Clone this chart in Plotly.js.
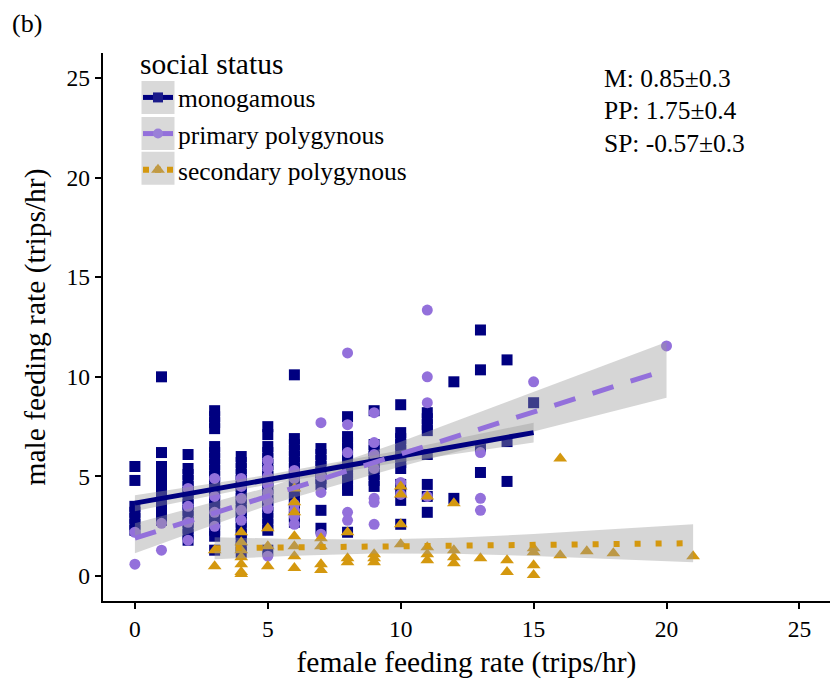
<!DOCTYPE html>
<html>
<head>
<meta charset="utf-8">
<script src="https://cdn.plot.ly/plotly-3.0.1.min.js"></script>
<style>
  html, body { margin: 0; padding: 0; background: #fff; }
  #chart { width: 830px; height: 679px; }
</style>
</head>
<body>
<div id="chart"></div>
<script>
// ---------------- data ----------------
var groupNames = ['monogamous', 'primary polygynous', 'secondary polygynous'];
var statLabels = ['M: 0.85\u00b10.3', 'PP: 1.75\u00b10.4', 'SP: -0.57\u00b10.3'];
var axisTicks = [0, 5, 10, 15, 20, 25];

// monogamous (navy squares)
var monoFemale = [
  0,0,0,0,0,0,0,
  1,1,1,1,1,1,1,1,1,1,1,1,
  2,2,2,2,2,2,2,2,2,2,2,2,2,2,
  3,3,3,3,3,3,3,3,3,3,3,3,3,3,3,3,3,3,3,3,3,
  4,4,4,4,4,4,4,4,4,4,4,4,4,4,4,4,4,
  5,5,5,5,5,5,5,5,5,5,5,5,5,5,5,5,5,5,
  6,6,6,6,6,6,6,6,6,6,6,6,6,6,6,6,
  7,7,7,7,7,7,7,7,7,
  8,8,8,8,8,8,8,8,8,8,8,8,
  9,9,9,9,9,9,9,9,9,
  10,10,10,10,10,10,10,10,10,10,10,10,
  11,11,11,11,11,11,11,11,
  12,12,
  13,13,13,13,
  14,14,14,
  15
];
var monoMale = [
  5.5,4.8,3.5,3.2,2.9,2.6,2.3,
  10.0,6.2,5.5,5.2,4.9,4.6,4.3,4.0,3.7,3.4,3.1,2.8,
  6.1,5.4,5.1,4.8,4.5,4.2,3.9,3.6,3.3,3.0,2.7,2.4,2.1,1.8,
  8.3,8.0,7.7,7.4,6.5,6.2,5.9,5.6,5.3,5.0,4.7,4.4,4.1,3.8,3.5,3.2,2.9,2.6,2.3,2.0,1.3,
  6.0,5.7,5.4,5.1,4.8,4.5,4.2,3.9,3.6,3.3,3.0,2.7,2.4,2.1,1.8,1.5,1.2,
  7.5,7.1,6.5,6.2,5.9,5.6,5.3,5.0,4.7,4.4,4.1,3.8,3.5,3.2,2.9,2.6,2.3,1.3,
  10.1,6.9,6.6,6.3,6.0,5.7,5.4,5.1,4.8,4.5,4.2,3.9,3.6,3.3,3.0,2.7,
  6.4,6.1,5.8,5.5,5.2,4.9,4.6,3.3,2.4,
  8.0,7.0,6.7,6.4,6.1,5.8,5.5,5.2,4.9,4.6,4.3,2.2,
  8.3,6.6,6.3,6.0,5.7,5.4,5.1,4.8,4.5,
  8.6,7.2,6.9,6.6,6.3,6.0,5.7,5.4,4.6,4.2,3.8,2.6,
  8.2,7.9,7.6,7.3,6.1,4.6,4.0,3.2,
  9.75,3.9,
  12.35,10.35,6.5,5.2,
  10.85,6.75,4.75,
  8.7
];

// primary polygynous (purple circles)
var ppFemale = [
  0,0,
  1,1,
  2,2,2,2,
  3,3,3,3,
  4,4,4,4,4,
  5,5,5,5,5,5,5,5,
  6,6,6,6,6,6,
  7,7,7,7,
  8,8,8,8,8,
  9,9,9,9,9,9,9,
  10,10,
  11,11,11,11,
  13,13,13,
  15,
  20
];
var ppMale = [
  2.2,0.6,
  2.65,1.3,
  4.4,3.5,2.7,1.8,
  4.9,4.0,3.2,2.5,
  4.9,4.5,3.9,3.3,2.8,
  5.8,5.4,5.0,4.6,4.2,3.8,3.4,1.0,
  5.3,4.9,3.6,3.3,3.0,2.6,
  7.7,5.0,4.2,2.1,
  11.2,7.6,6.2,3.2,2.8,
  8.2,6.7,6.1,5.4,3.9,3.7,2.6,
  4.7,4.1,
  13.35,10.0,8.7,4.0,
  6.2,3.9,3.3,
  9.75,
  11.55
];

// secondary polygynous (orange triangles)
var spFemale = [
  3,3,
  4,4,4,4,4,4,4,
  5,5,5,
  6,6,6,6,6,6,6,
  7,7,7,7,
  8,8,8,
  9,9,9,
  10,10,10,10,
  11,11,11,11,
  12,12,12,12,
  13,
  14,14,
  15,15,15,15,
  16,16,
  17,
  18,
  21
];
var spMale = [
  1.3,0.5,
  2.2,1.7,1.3,0.95,0.6,0.2,0.1,
  2.4,1.5,0.5,
  4.4,3.7,3.2,2.0,1.5,1.0,0.4,
  1.9,1.5,0.6,0.3,
  2.2,0.9,0.7,
  1.1,0.9,0.7,
  4.5,4.1,2.6,1.6,
  4.0,1.45,1.1,0.8,
  3.65,1.3,0.95,0.65,
  0.9,
  0.8,0.2,
  1.4,1.2,0.55,0.05,
  5.9,1.05,
  1.25,
  1.15,
  1.0
];

// fitted lines and confidence bands
var monoFitX = [0, 5, 10, 15];
var monoFitY = [3.66, 4.84, 6.02, 7.2];
var monoLow  = [3.26, 4.6, 5.72, 6.7];
var monoHigh = [4.06, 5.08, 6.32, 7.7];

var ppFitX = [0, 5, 10, 15, 20];
var ppFitY = [1.9, 4.0, 6.12, 8.24, 10.35];
var ppLow  = [1.15, 3.55, 5.5, 7.25, 8.95];
var ppHigh = [2.65, 4.45, 6.74, 9.23, 11.75];

var spFitX = [3, 6, 9, 12, 15, 18, 21];
var spFitY = [1.4, 1.44, 1.48, 1.52, 1.56, 1.6, 1.65];
var spLow  = [0.85, 1.02, 1.13, 1.12, 1.01, 0.85, 0.7];
var spHigh = [1.95, 1.86, 1.83, 1.92, 2.11, 2.35, 2.6];

// ---------------- styling ----------------
var NAVY = '#000080', PURPLE = '#9370DB', GOLD = '#D4980F';
var FONT = '"Liberation Serif", "Times New Roman", serif';
var RIB = 'rgba(153,153,153,0.4)';

function band(xs, lo, hi) {
  return {
    x: xs.concat(xs.slice().reverse()),
    y: hi.concat(lo.slice().reverse()),
    type: 'scatter', mode: 'lines', fill: 'toself',
    fillcolor: RIB, line: {width: 0, color: 'rgba(0,0,0,0)'},
    hoverinfo: 'skip', showlegend: false
  };
}

var traces = [
  {x: monoFemale, y: monoMale, type: 'scatter', mode: 'markers', showlegend: false,
   marker: {symbol: 'square', size: 11, color: NAVY}},
  {x: ppFemale, y: ppMale, type: 'scatter', mode: 'markers', showlegend: false,
   marker: {symbol: 'circle', size: 11, color: PURPLE}},
  {x: spFemale, y: spMale, type: 'scatter', mode: 'markers', showlegend: false,
   marker: {symbol: 'triangle-up', size: 12, color: GOLD}},
  band(monoFitX, monoLow, monoHigh),
  band(ppFitX, ppLow, ppHigh),
  band(spFitX, spLow, spHigh),
  {x: monoFitX, y: monoFitY, type: 'scatter', mode: 'lines', showlegend: false,
   line: {color: NAVY, width: 5}},
  {x: ppFitX, y: ppFitY, type: 'scatter', mode: 'lines', showlegend: false,
   line: {color: PURPLE, width: 5, dash: '22px,18px'}},
  {x: spFitX, y: spFitY, type: 'scatter', mode: 'lines', showlegend: false,
   line: {color: GOLD, width: 6, dash: '6px,15px'}},
  // legend entries
  {x: [null], y: [null], type: 'scatter', mode: 'lines+markers', name: groupNames[0],
   line: {color: NAVY, width: 5}, marker: {symbol: 'square', size: 10, color: '#1a1a8a'}},
  {x: [null], y: [null], type: 'scatter', mode: 'lines+markers', name: groupNames[1],
   line: {color: PURPLE, width: 5}, marker: {symbol: 'circle', size: 10, color: '#9a80d8'}},
  {x: [null], y: [null], type: 'scatter', mode: 'lines+markers', name: groupNames[2],
   line: {color: GOLD, width: 6, dash: '6px,6px'}, marker: {symbol: 'triangle-up', size: 12, color: '#C09A45'}}
];

var L = 103, R = 0, T = 53, B = 78, W = 830, H = 679;
var plotW = W - L - R, plotH = H - T - B;
function px2paperX(px) { return (px - L) / plotW; }
function px2paperY(py) { return (H - B - py) / plotH; }

var annotations = [
  {text: '(b)', xref: 'paper', yref: 'paper', x: px2paperX(10), y: px2paperY(7),
   xanchor: 'left', yanchor: 'top', showarrow: false, font: {family: FONT, size: 26, color: '#000'}}
];
for (var i = 0; i < statLabels.length; i++) {
  annotations.push({text: statLabels[i], xref: 'paper', yref: 'paper',
    x: px2paperX(602), y: px2paperY(78 + i * 32.5), xanchor: 'left', yanchor: 'middle',
    showarrow: false, font: {family: FONT, size: 25.5, color: '#000'}});
}

var axisCommon = {
  showline: true, linecolor: '#000', linewidth: 2.2, mirror: false,
  ticks: 'outside', ticklen: 6, tickwidth: 2, tickcolor: '#000',
  showgrid: false, zeroline: false,
  tickvals: axisTicks, ticktext: axisTicks.map(String),
  tickfont: {family: FONT, size: 23.5, color: '#000'}
};

var layout = {
  width: W, height: H,
  margin: {l: L, r: R, t: T, b: B, pad: 0},
  paper_bgcolor: '#fff', plot_bgcolor: '#fff',
  font: {family: FONT, color: '#000'},
  xaxis: Object.assign({}, axisCommon, {
    range: [-1.2, 26.15],
    title: {text: 'female feeding rate (trips/hr)', font: {family: FONT, size: 29.5, color: '#000'}, standoff: 10}
  }),
  yaxis: Object.assign({}, axisCommon, {
    range: [-1.25, 26.25],
    title: {text: 'male feeding rate (trips/hr)', font: {family: FONT, size: 29.5, color: '#000'}, standoff: 12}
  }),
  showlegend: true,
  legend: {
    x: px2paperX(138), y: px2paperY(36), xanchor: 'left', yanchor: 'top',
    bgcolor: 'rgba(0,0,0,0)', borderwidth: 0,
    font: {family: FONT, size: 25.5, color: '#000'},
    title: {text: 'social status', font: {family: FONT, size: 29.5, color: '#000'}},
    tracegroupgap: 0, itemwidth: 30
  },
  annotations: annotations
};

var gd = document.getElementById('chart');
Plotly.newPlot(gd, traces, layout, {displayModeBar: false, staticPlot: true}).then(function () {
  // grey key backgrounds behind legend symbols
  var root = gd.getBoundingClientRect();
  var syms = gd.querySelectorAll('g.legend g.traces .legendsymbols');
  var shapes = [];
  syms.forEach(function (s) {
    var r = s.getBoundingClientRect();
    var cx = r.left + r.width / 2 - root.left;
    var cy = r.top + r.height / 2 - root.top;
    var half = 16.5;
    shapes.push({type: 'rect', xref: 'paper', yref: 'paper', layer: 'below',
      x0: px2paperX(cx - half), x1: px2paperX(cx + half),
      y0: px2paperY(cy + half), y1: px2paperY(cy - half),
      fillcolor: '#d9d9d9', line: {width: 0}});
  });
  return Plotly.relayout(gd, {shapes: shapes});
});
</script>
</body>
</html>
